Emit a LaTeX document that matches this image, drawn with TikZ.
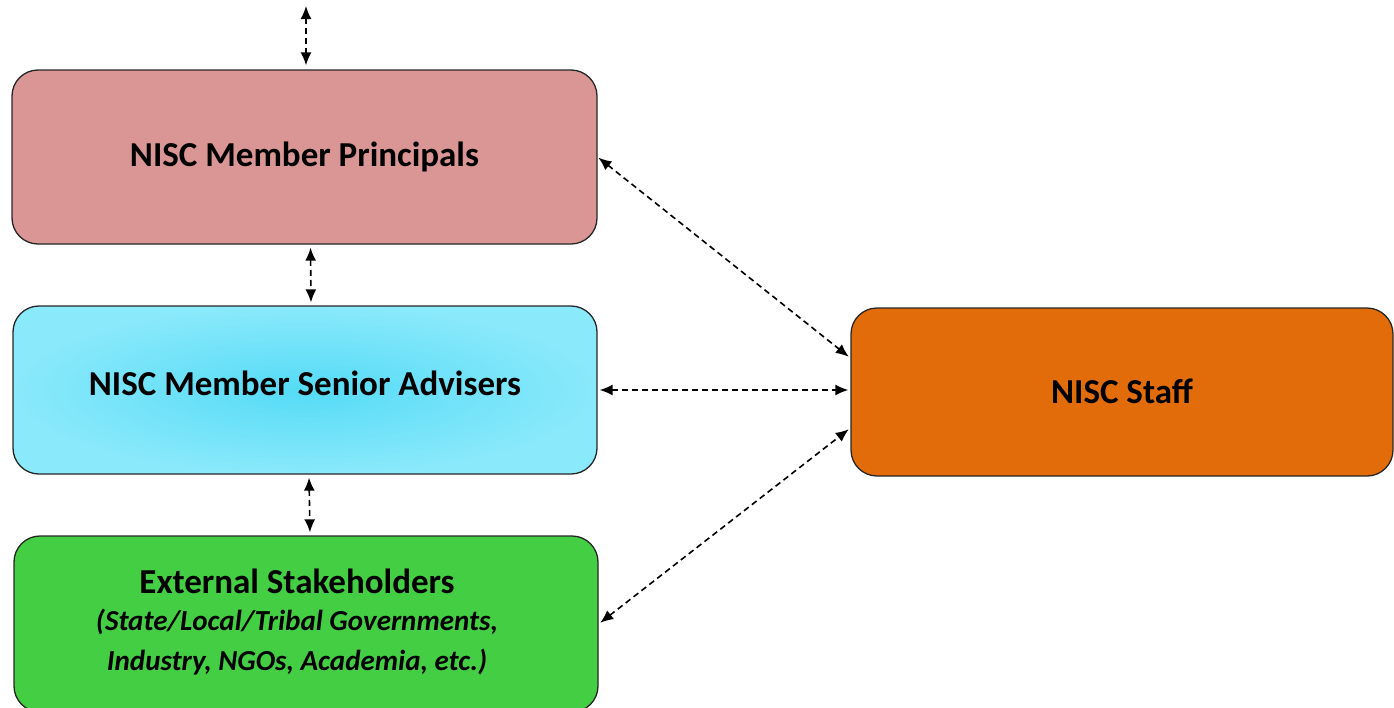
\documentclass[tikz,border=0pt]{standalone}
\usepackage{fontspec}
\setmainfont{Carlito}
\usetikzlibrary{arrows.meta}
\definecolor{pinkc}{HTML}{D99694}
\definecolor{cyanout}{HTML}{8AE9FB}
\definecolor{cyanin}{HTML}{55DBF6}
\definecolor{greenc}{HTML}{43CE43}
\definecolor{orangec}{HTML}{E36C0A}
\begin{document}
\begin{tikzpicture}[x=1pt,y=-1pt,
  box/.style={draw=black!85, line width=1.3pt, rounded corners=26pt, inner sep=0pt, align=center,
    font=\bfseries\fontsize{35}{40}\selectfont},
  link/.style={dash pattern=on 6pt off 4pt, line width=1.6pt,
    {Latex[length=13pt,width=11pt]}-{Latex[length=13pt,width=11pt]}}]
\useasboundingbox (0,0) rectangle (1394,707);
\clip (0,0) rectangle (1394,707);
\node[box, fill=pinkc, minimum width=585pt, minimum height=174pt] (prin) at (304.5,157)
  {\raisebox{2pt}{NISC Member Principals}};
\node[box, inner color=cyanin, outer color=cyanout, minimum width=584pt, minimum height=168pt] (adv) at (305,390)
  {\raisebox{14pt}{NISC Member Senior Advisers}};
\node[box, fill=greenc, minimum width=584pt, minimum height=176pt] (ext) at (306,624)
  {\raisebox{12pt}{\begin{tabular}{c}External Stakeholders\\[-3pt]
   {\itshape\fontsize{29}{35}\selectfont (State/Local/Tribal Governments,}\\
   {\itshape\fontsize{29}{35}\selectfont Industry, NGOs, Academia, etc.)}\end{tabular}}\hspace*{18pt}};
\node[box, fill=orangec, minimum width=542pt, minimum height=168pt] (staff) at (1122,392)
  {\raisebox{2pt}{NISC Staff}};
\coordinate (top) at (306,6);
\draw[link, shorten >=4pt] (top) -- (top |- prin.north);
\draw[link, shorten <=3pt, shorten >=3pt] ([xshift=6pt]prin.south) -- ([xshift=6pt]adv.north);
\draw[link, shorten <=3pt, shorten >=3pt] ([xshift=4pt]adv.south) -- ([xshift=4pt]ext.north);
\draw[link, shorten <=1pt, shorten >=2pt] (prin.east) -- ([yshift=34pt]staff.west);
\draw[link, shorten <=2pt, shorten >=2pt] (adv.east) -- (adv.east -| staff.west);
\draw[link, shorten <=2pt, shorten >=2pt] (ext.east) -- ([yshift=-36pt]staff.west);
\end{tikzpicture}
\end{document}
